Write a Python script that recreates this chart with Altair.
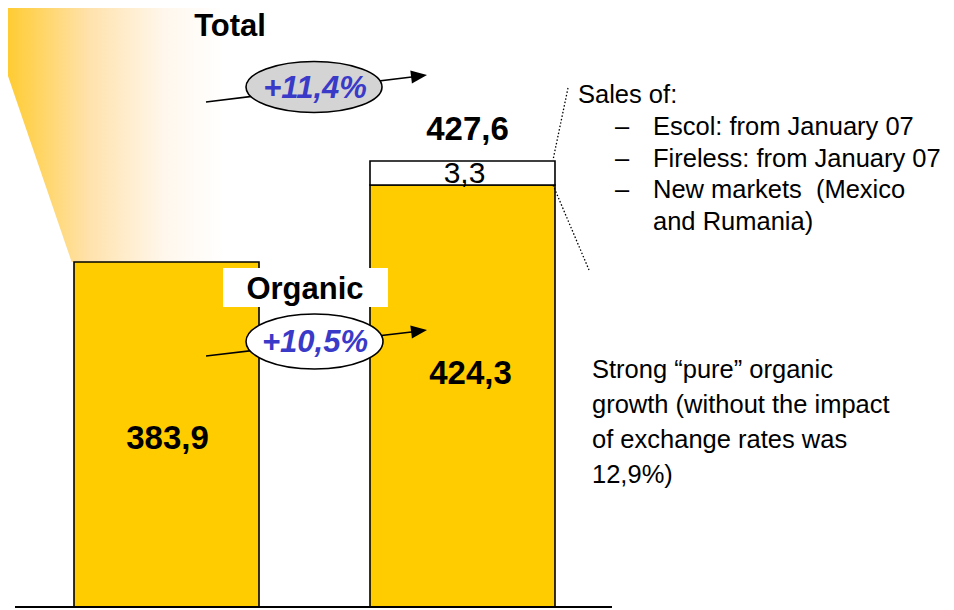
import altair as alt
import pandas as pd

# ---------------- data ----------------
categories = ["2006", "2007"]
organic_sales = [383.9, 424.3]
acquired_sales = [0.0, 3.3]
growth_total_label = "+11,4%"
growth_organic_label = "+10,5%"
heading_total = "Total"
heading_organic = "Organic"
sales_heading = "Sales of:"
sales_items = ["Escol: from January 07", "Fireless: from January 07",
               "New markets\u00a0 (Mexico", "and Rumania)"]
sales_dashes = ["–", "–", "–"]
note_lines = ["Strong “pure” organic", "growth (without the impact",
              "of exchange rates was", "12,9%)"]

AXIS_FLOOR = 202.9
W, H = 938, 602
FONT = "Liberation Sans"


def fmt(v):
    return f"{v:.1f}".replace(".", ",")


rows = []
for c, o, a in zip(categories, organic_sales, acquired_sales):
    rows.append(dict(cat=c, part="organic", start=AXIS_FLOOR, end=o))
    if a > 0:
        rows.append(dict(cat=c, part="acquired", start=o, end=o + a))
bars_df = pd.DataFrame(rows)
one = pd.DataFrame({"k": [0]})
top_total = organic_sales[1] + acquired_sales[1]

x_enc = alt.X("cat:N", scale=alt.Scale(domain=categories, range=[0, 613],
                                       paddingInner=0.375, paddingOuter=0.223),
              axis=None)
y_scale = alt.Scale(domain=[AXIS_FLOOR, organic_sales[1], top_total],
                    range=[599, 177, 153], zero=False, nice=False)

# ---------------- layers ----------------
grad = alt.LinearGradient(
    gradient="linear", x1=0, x2=1, y1=0, y2=0,
    stops=[alt.GradientStop(color="#FFCC33", offset=0),
           alt.GradientStop(color="#FFE2AC", offset=0.27),
           alt.GradientStop(color="#FFF7EC", offset=0.52),
           alt.GradientStop(color="#FFFFFF", offset=0.72)])

wedge = alt.Chart(one).mark_rect(fill=grad).encode(
    x=alt.value(0), x2=alt.value(300), y=alt.value(0), y2=alt.value(254))
wedge_cut = alt.Chart(one).mark_point(
    shape="M-2,0L-1,0L64,190L-2,190Z", size=4, filled=True, fill="white",
    strokeWidth=0, opacity=1).encode(x=alt.value(0), y=alt.value(65))

bars = alt.Chart(bars_df).mark_bar(stroke="black", strokeWidth=1.6, opacity=1).encode(
    x=x_enc,
    y=alt.Y("end:Q", scale=y_scale, axis=None),
    y2="start:Q",
    fill=alt.Fill("part:N", scale=alt.Scale(domain=["organic", "acquired"],
                                            range=["#FFCC00", "#FFFFFF"]),
                  legend=None),
)

baseline = alt.Chart(one).mark_rule(color="black", strokeWidth=2).encode(
    x=alt.value(7), x2=alt.value(604), y=alt.value(599), y2=alt.value(599))

dot1 = alt.Chart(one).mark_rule(color="black", strokeWidth=1.3, strokeDash=[1.5, 2]).encode(
    x=alt.value(560), y=alt.value(80), x2=alt.value(545), y2=alt.value(152))
dot2 = alt.Chart(one).mark_rule(color="black", strokeWidth=1.3, strokeDash=[1.5, 2]).encode(
    x=alt.value(545), y=alt.value(177), x2=alt.value(581), y2=alt.value(262))

arrow1 = alt.Chart(one).mark_rule(color="black", strokeWidth=1.6).encode(
    x=alt.value(198), y=alt.value(94), x2=alt.value(412), y2=alt.value(68))
arrow2 = alt.Chart(one).mark_rule(color="black", strokeWidth=1.6).encode(
    x=alt.value(198), y=alt.value(348), x2=alt.value(412), y2=alt.value(323))

head_path = "M0,0L-16,-6.5L-16,6.5Z"
head1 = alt.Chart(one).mark_point(shape=head_path, size=4, filled=True, fill="black",
                                  strokeWidth=0, opacity=1, angle=353).encode(
    x=alt.value(419), y=alt.value(67))
head2 = alt.Chart(one).mark_point(shape=head_path, size=4, filled=True, fill="black",
                                  strokeWidth=0, opacity=1, angle=353).encode(
    x=alt.value(419), y=alt.value(322))

organic_box = alt.Chart(one).mark_rect(fill="white").encode(
    x=alt.value(215), x2=alt.value(380), y=alt.value(260), y2=alt.value(299))

ell1 = alt.Chart(one).mark_point(
    shape="M-68,0A68,25.5,0,1,1,68,0A68,25.5,0,1,1,-68,0Z", size=4, filled=True,
    fill="#D4D4D4", stroke="black", strokeWidth=1.6, opacity=1).encode(
    x=alt.value(306), y=alt.value(79))
ell2 = alt.Chart(one).mark_point(
    shape="M-68.5,0A68.5,27.5,0,1,1,68.5,0A68.5,27.5,0,1,1,-68.5,0Z", size=4, filled=True,
    fill="white", stroke="black", strokeWidth=1.6, opacity=1).encode(
    x=alt.value(306.5), y=alt.value(333.5))


def text(t, x, y, size, weight="normal", style="normal", color="black",
         align="center", line_height=None):
    kw = dict(font=FONT, fontSize=size, fontWeight=weight, fontStyle=style,
              color=color, align=align, baseline="middle")
    if line_height:
        kw["lineHeight"] = line_height
    return alt.Chart(one).mark_text(**kw).encode(x=x, y=alt.value(y), text=alt.value(t))


labels = [
    text(heading_total, alt.value(222), 19, 31, "bold"),
    text(growth_total_label, alt.value(307), 81, 31, "bold", "italic", "#3A3AC8"),
    text(heading_organic, alt.value(297), 282, 31, "bold"),
    text(growth_organic_label, alt.value(307), 335, 31, "bold", "italic", "#3A3AC8"),
    alt.Chart(one).mark_text(font=FONT, fontSize=33, fontWeight="bold", baseline="middle",
                             dx=5).encode(
        x=alt.X(datum=categories[1], scale=alt.Scale(domain=categories)),
        y=alt.value(122), text=alt.value(fmt(top_total))),
    alt.Chart(one).mark_text(font=FONT, fontSize=30, baseline="middle", dx=2).encode(
        x=alt.X(datum=categories[1]), y=alt.value(166),
        text=alt.value(fmt(acquired_sales[1]))),
    alt.Chart(one).mark_text(font=FONT, fontSize=33, fontWeight="bold", baseline="middle",
                             dx=8).encode(
        x=alt.X(datum=categories[1]), y=alt.value(366),
        text=alt.value(fmt(organic_sales[1]))),
    alt.Chart(one).mark_text(font=FONT, fontSize=33, fontWeight="bold", baseline="middle",
                             dx=1).encode(
        x=alt.X(datum=categories[0]), y=alt.value(431),
        text=alt.value(fmt(organic_sales[0]))),
    text(sales_heading, alt.value(570), 87, 25.5, align="left"),
    text(sales_dashes, alt.value(607), 119, 25.5, align="left", line_height=31.6),
    text(sales_items, alt.value(645), 119, 25.5, align="left", line_height=31.7),
    text(note_lines, alt.value(584), 362, 25.5, align="left", line_height=35),
]

chart = alt.layer(
    wedge, wedge_cut, bars, baseline, dot1, dot2, arrow1, arrow2,
    organic_box, ell1, ell2, head1, head2, *labels
).properties(
    width=W, height=H, padding=0, background="white",
    autosize=alt.AutoSizeParams(type="none"),
).configure_view(stroke=None)

chart.save("out.html", embed_options={"renderer": "svg", "actions": False})
